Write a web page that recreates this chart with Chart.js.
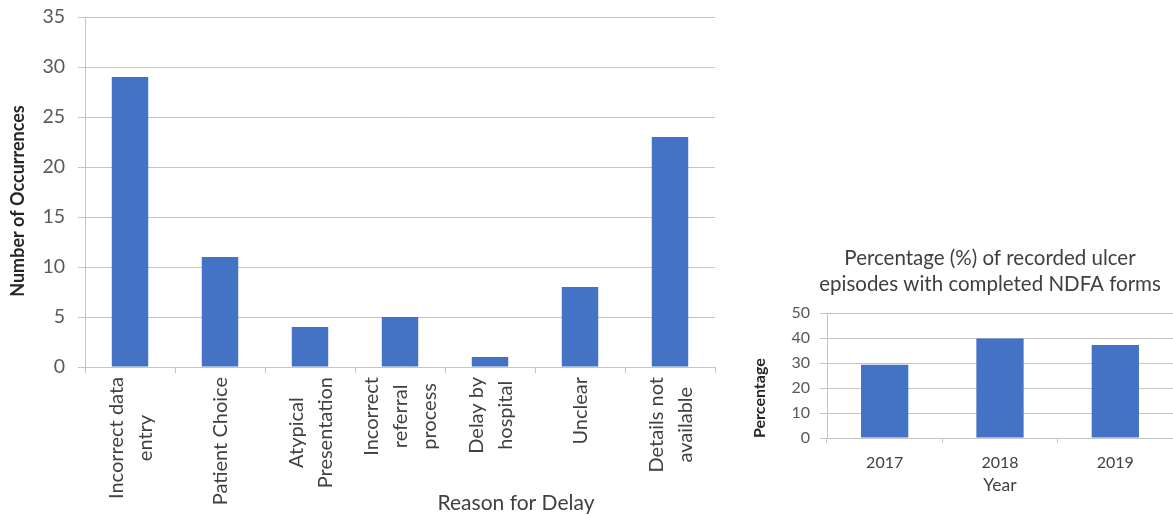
<!DOCTYPE html>
<html>
<head>
<meta charset="utf-8">
<script src="https://cdn.jsdelivr.net/npm/chart.js@4.4.1/dist/chart.umd.min.js"></script>
<style>
  html, body { margin: 0; padding: 0; background: #ffffff; overflow: hidden; }
  body { width: 1173px; height: 515px; position: relative; }
  #delayBox { position: absolute; left: 0; top: 0; width: 740px; height: 515px; }
  #ndfaBox { position: absolute; left: 740px; top: 230px; width: 433px; height: 285px; }
</style>
</head>
<body>
<div id="delayBox"><canvas id="delayChart"></canvas></div>
<div id="ndfaBox"><canvas id="ndfaChart"></canvas></div>
<script>
// Reasons for delay and how often each occurred
const delayReasons = [
  ["Incorrect data", "entry"],
  ["Patient Choice"],
  ["Atypical", "Presentation"],
  ["Incorrect", "referral", "process"],
  ["Delay by", "hospital"],
  ["Unclear"],
  ["Details not", "available"]
];
const delayCounts = [29, 11, 4, 5, 1, 8, 23];

// Share of recorded ulcer episodes with a completed NDFA form, by year
const years = ["2017", "2018", "2019"];
const ndfaPercent = [29.3, 39.8, 37.2];
const ndfaTitle = ["Percentage (%) of recorded ulcer", "episodes with completed NDFA forms"];

const BAR_BLUE = "#4472C4";
const GRID_GREY = "#c4c4c4";
const TICK_TEXT = "#595959";
const LABEL_TEXT = "#404040";
const TITLE_DARK = "#262626";
const FONT = "Lato, 'Open Sans', sans-serif";

Chart.defaults.font.family = FONT;
Chart.defaults.color = TICK_TEXT;

// Category labels under the first chart: rotated a quarter turn, each
// multi-line label centred as a block and hung from just below the axis.
// Both axis captions are drawn here too, placed off-centre.
const delayDecorations = {
  id: "delayDecorations",
  afterDraw(chart) {
    const xScale = chart.scales.x;
    const area = chart.chartArea;
    const ctx = chart.ctx;
    const lineGap = 29;
    ctx.save();
    ctx.font = "20px " + FONT;
    ctx.fillStyle = LABEL_TEXT;
    ctx.textAlign = "center";
    ctx.textBaseline = "middle";
    delayReasons.forEach((lines, i) => {
      const cx = xScale.getPixelForValue(i);
      const blockLen = Math.max(...lines.map(l => ctx.measureText(l).width));
      const top = area.bottom + 10;
      ctx.save();
      ctx.translate(cx, top + blockLen / 2);
      ctx.rotate(-Math.PI / 2);
      lines.forEach((line, j) => {
        const off = (j - (lines.length - 1) / 2) * lineGap + 1;
        ctx.fillText(line, 0, off);
      });
      ctx.restore();
    });

    // x-axis caption, sitting under the right-hand half of the categories
    ctx.font = "21px " + FONT;
    ctx.fillText("Reason for Delay", xScale.getPixelForValue(4.5) - 19, 503);
    ctx.restore();

    ctx.save();
    ctx.font = "bold 18px " + FONT;
    ctx.fillStyle = TITLE_DARK;
    ctx.textAlign = "center";
    ctx.textBaseline = "middle";
    ctx.translate(18, 201);
    ctx.rotate(-Math.PI / 2);
    ctx.fillText("Number of Occurrences", 0, 0);
    ctx.restore();
  }
};

// Two-line heading above the second chart, centred on its own column.
const ndfaHeading = {
  id: "ndfaHeading",
  afterDraw(chart) {
    const ctx = chart.ctx;
    ctx.save();
    ctx.font = "20.5px " + FONT;
    ctx.fillStyle = LABEL_TEXT;
    ctx.textAlign = "center";
    ctx.textBaseline = "middle";
    ndfaTitle.forEach((line, i) => ctx.fillText(line, 250, 28 + i * 26));
    ctx.restore();
  }
};

new Chart(document.getElementById("delayChart"), {
  type: "bar",
  data: {
    labels: delayReasons,
    datasets: [{
      data: delayCounts,
      backgroundColor: BAR_BLUE,
      categoryPercentage: 1,
      barPercentage: 0.405
    }]
  },
  options: {
    responsive: true,
    maintainAspectRatio: false,
    animation: false,
    layout: { padding: { top: 17, right: 25, left: 0, bottom: 0 } },
    plugins: { legend: { display: false }, tooltip: { enabled: false } },
    scales: {
      x: {
        grid: { offset: true, drawOnChartArea: false, drawTicks: true, tickLength: 6, color: GRID_GREY },
        border: { display: true, color: GRID_GREY, width: 1 },
        ticks: { display: false },
        afterFit(scale) {
          scale.height = 148;
          scale.paddingLeft = 0;
          scale.paddingRight = 0;
        }
      },
      y: {
        min: 0, max: 35,
        ticks: { stepSize: 5, padding: 13, font: { size: 19.5 }, color: TICK_TEXT },
        grid: { color: GRID_GREY, tickLength: 7, drawTicks: true },
        border: { display: true, color: GRID_GREY, width: 1 },
        afterFit(scale) {
          scale.width = 85;
          scale.paddingTop = 0;
          scale.paddingBottom = 0;
        }
      }
    }
  },
  plugins: [delayDecorations]
});

new Chart(document.getElementById("ndfaChart"), {
  type: "bar",
  data: {
    labels: years,
    datasets: [{
      data: ndfaPercent,
      backgroundColor: BAR_BLUE,
      categoryPercentage: 1,
      barPercentage: 0.41
    }]
  },
  options: {
    responsive: true,
    maintainAspectRatio: false,
    animation: false,
    layout: { padding: { top: 83, right: 0, left: 0, bottom: 0 } },
    plugins: {
      legend: { display: false },
      tooltip: { enabled: false }
    },
    scales: {
      x: {
        grid: { offset: true, drawOnChartArea: false, drawTicks: true, tickLength: 5, color: GRID_GREY },
        border: { display: true, color: GRID_GREY, width: 1 },
        ticks: { padding: 10, font: { size: 16 }, color: LABEL_TEXT, maxRotation: 0 },
        title: {
          display: true, text: "Year", color: LABEL_TEXT,
          font: { size: 17.5 }, padding: { top: 0, bottom: 19 }
        },
        afterFit(scale) {
          scale.height = 77;
          scale.paddingLeft = 0;
          scale.paddingRight = 0;
        }
      },
      y: {
        min: 0, max: 50,
        ticks: { stepSize: 10, padding: 10, font: { size: 16 }, color: TICK_TEXT },
        grid: { color: GRID_GREY, tickLength: 7, drawTicks: true },
        border: { display: true, color: GRID_GREY, width: 1 },
        title: {
          display: true, text: "Percentage", color: TITLE_DARK, align: "start",
          font: { size: 16, weight: "bold" }, padding: { top: 10, bottom: 0 }
        },
        afterFit(scale) {
          scale.width = 87;
          scale.paddingTop = 0;
          scale.paddingBottom = 0;
        }
      }
    }
  },
  plugins: [ndfaHeading]
});
</script>
</body>
</html>
